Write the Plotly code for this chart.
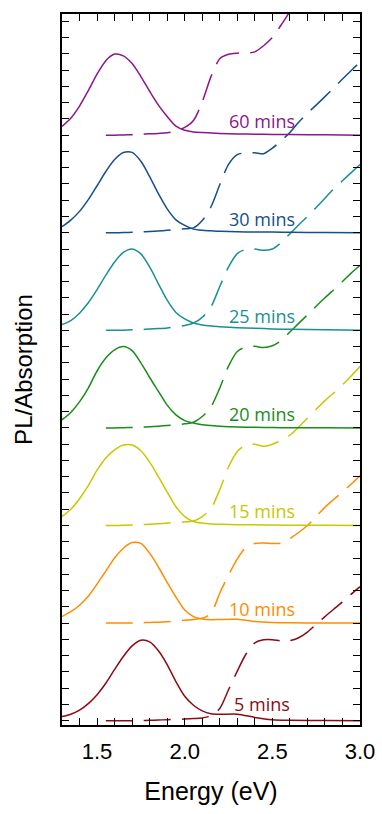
import plotly.graph_objects as go

# Energy grids (eV)
energy_pl = [1.30, 1.35, 1.40, 1.45, 1.50, 1.55, 1.60, 1.65, 1.70, 1.75, 1.80, 1.85, 1.90,
             1.95, 2.00, 2.05, 2.10, 2.15, 2.20, 2.30, 2.40, 2.50, 2.60, 2.80, 3.00]
energy_abs = [1.55, 1.60, 1.65, 1.70, 1.75, 1.80, 1.85, 1.90, 1.95, 2.00, 2.05, 2.10, 2.15,
              2.20, 2.25, 2.30, 2.35, 2.40, 2.45, 2.50, 2.55, 2.60, 2.65, 2.70, 2.75, 2.80,
              2.85, 2.90, 2.95, 3.00]

# Sample names, bottom to top
samples = ["5 mins", "10 mins", "15 mins", "20 mins", "25 mins", "30 mins", "60 mins"]

# Normalised PL spectra (solid)
pl_5 = [0.05, 0.08, 0.13, 0.21, 0.32, 0.46, 0.63, 0.79, 0.92, 0.99, 0.97, 0.86, 0.69,
        0.48, 0.30, 0.19, 0.12, 0.085, 0.078, 0.08, 0.04, 0.012, 0.005, 0.002, 0.0]
pl_10 = [0.08, 0.14, 0.22, 0.33, 0.48, 0.64, 0.80, 0.92, 0.99, 0.98, 0.86, 0.69, 0.50,
         0.32, 0.16, 0.08, 0.05, 0.042, 0.045, 0.046, 0.02, 0.008, 0.004, 0.002, 0.0]
pl_15 = [0.11, 0.20, 0.33, 0.49, 0.68, 0.83, 0.93, 0.99, 0.99, 0.92, 0.78, 0.60, 0.41,
         0.23, 0.11, 0.05, 0.03, 0.02, 0.015, 0.01, 0.008, 0.005, 0.004, 0.002, 0.0]
pl_20 = [0.10, 0.19, 0.32, 0.49, 0.70, 0.86, 0.96, 1.0, 0.95, 0.80, 0.62, 0.45, 0.28,
         0.16, 0.09, 0.06, 0.04, 0.03, 0.022, 0.012, 0.008, 0.005, 0.003, 0.001, 0.0]
pl_25 = [0.07, 0.12, 0.211, 0.339, 0.50, 0.678, 0.841, 0.958, 1.0, 0.94, 0.78, 0.572, 0.371,
         0.22, 0.14, 0.09, 0.065, 0.052, 0.045, 0.033, 0.025, 0.018, 0.013, 0.006, 0.0]
pl_30 = [0.075, 0.155, 0.263, 0.407, 0.578, 0.753, 0.90, 0.986, 0.988, 0.879, 0.691, 0.480,
         0.294, 0.159, 0.09, 0.045, 0.03, 0.024, 0.018, 0.012, 0.01, 0.008, 0.006, 0.003, 0.0]
pl_60 = [0.108, 0.209, 0.358, 0.549, 0.751, 0.916, 0.997, 0.975, 0.88, 0.72, 0.54, 0.37,
         0.23, 0.11, 0.06, 0.04, 0.032, 0.027, 0.022, 0.015, 0.012, 0.009, 0.007, 0.004, 0.0]

# Normalised absorption spectra (dashed)
abs_5 = [0, 0, 0, 0, 0.002, 0.004, 0.008, 0.012, 0.016, 0.02, 0.026, 0.034, 0.06, 0.15,
         0.38, 0.61, 0.82, 0.956, 0.994, 0.996, 0.98, 0.984, 1.02, 1.09, 1.184, 1.28, 1.37,
         1.46, 1.556, 1.648]
abs_10 = [0, 0, 0, 0.002, 0.004, 0.008, 0.012, 0.018, 0.026, 0.034, 0.044, 0.06, 0.12, 0.37,
          0.59, 0.79, 0.93, 0.98, 0.986, 0.98, 0.984, 1.04, 1.114, 1.2, 1.31, 1.424, 1.52,
          1.61, 1.71, 1.81]
abs_15 = [0, 0, 0.002, 0.006, 0.01, 0.016, 0.022, 0.03, 0.036, 0.044, 0.056, 0.11, 0.21,
          0.44, 0.72, 0.91, 0.994, 1.0, 0.974, 1.0, 1.05, 1.11, 1.21, 1.32, 1.43, 1.536,
          1.63, 1.73, 1.84, 1.954]
abs_20 = [0, 0, 0.002, 0.006, 0.01, 0.016, 0.022, 0.03, 0.04, 0.05, 0.07, 0.14, 0.26, 0.49,
          0.76, 0.94, 0.996, 1.004, 0.988, 1.01, 1.072, 1.18, 1.286, 1.39, 1.496, 1.6, 1.7,
          1.8, 1.904, 2.0]
abs_25 = [0, 0, 0.002, 0.006, 0.01, 0.016, 0.022, 0.03, 0.044, 0.06, 0.09, 0.16, 0.29, 0.54,
          0.78, 0.944, 0.996, 1.0, 0.984, 1.0, 1.08, 1.188, 1.296, 1.40, 1.51, 1.624, 1.74,
          1.84, 1.94, 2.04]
abs_30 = [0, 0, 0.002, 0.006, 0.01, 0.016, 0.022, 0.03, 0.04, 0.048, 0.06, 0.15, 0.32, 0.59,
          0.84, 0.96, 0.984, 0.984, 0.972, 1.04, 1.13, 1.234, 1.36, 1.47, 1.57, 1.674, 1.78,
          1.89, 1.996, 2.1]
abs_60 = [0, 0, 0.002, 0.006, 0.01, 0.016, 0.022, 0.03, 0.05, 0.096, 0.18, 0.41, 0.72, 0.94,
          0.994, 1.008, 1.012, 1.024, 1.10, 1.20, 1.355, 1.52, 1.68, 1.84, 2.0, 2.16, 2.32,
          2.48, 2.64, 2.8]

x_ticks = [1.5, 2.0, 2.5, 3.0]
x_tick_labels = ["1.5", "2.0", "2.5", "3.0"]

pl_series = [pl_5, pl_10, pl_15, pl_20, pl_25, pl_30, pl_60]
abs_series = [abs_5, abs_10, abs_15, abs_20, abs_25, abs_30, abs_60]
colors = ["#8b0a14", "#ff8c00", "#c8c800", "#1a8c1a", "#1a9090", "#154f8c", "#8c168c"]

OFFSET = 1.2  # vertical stacking step between samples

fig = go.Figure()
for i, (name, pl, ab, col) in enumerate(zip(samples, pl_series, abs_series, colors)):
    base = i * OFFSET
    fig.add_trace(go.Scatter(
        x=energy_abs, y=[v + base for v in ab], mode="lines",
        line=dict(color=col, width=1.5, dash="27px,11px", shape="spline", smoothing=0.8),
        hoverinfo="skip", showlegend=False))
    fig.add_trace(go.Scatter(
        x=energy_pl, y=[v + base for v in pl], mode="lines",
        line=dict(color=col, width=1.5, shape="spline", smoothing=0.8),
        hoverinfo="skip", showlegend=False))
    label_x = 2.27 if name == "5 mins" else 2.243
    label_dy = 0.21 if name == "5 mins" else 0.175
    fig.add_annotation(
        x=label_x, y=base + label_dy, text=name, showarrow=False,
        xanchor="left", yanchor="middle",
        font=dict(family="Open Sans", size=18, color=col))

axis_common = dict(showline=True, linecolor="black", linewidth=1.5, mirror="allticks",
                   ticks="inside", ticklen=7, tickwidth=1.2, tickcolor="black",
                   showgrid=False, zeroline=False, automargin=False)

fig.update_xaxes(range=[1.3, 3.0], tickvals=x_ticks, ticktext=x_tick_labels,
                 minor=dict(dtick=0.1, tick0=1.3, ticks="inside", ticklen=7,
                            tickwidth=1.2, tickcolor="black", showgrid=False),
                 tickfont=dict(family="Liberation Sans, Arial", size=22, color="black"),
                 ticklabelstandoff=6,
                 title=dict(text="Energy (eV)",
                            font=dict(family="Liberation Sans, Arial", size=25,
                                      color="black"), standoff=19),
                 **axis_common)
fig.update_yaxes(range=[-0.053, 8.69], tick0=0, dtick=0.2, showticklabels=False,
                 title=dict(text="PL/Absorption",
                            font=dict(family="Liberation Sans, Arial", size=24,
                                      color="black"), standoff=21),
                 **axis_common)

fig.update_layout(width=382, height=814, margin=dict(l=62, r=22, t=14, b=89),
                  plot_bgcolor="white", paper_bgcolor="white")

fig.write_html("out.html")
